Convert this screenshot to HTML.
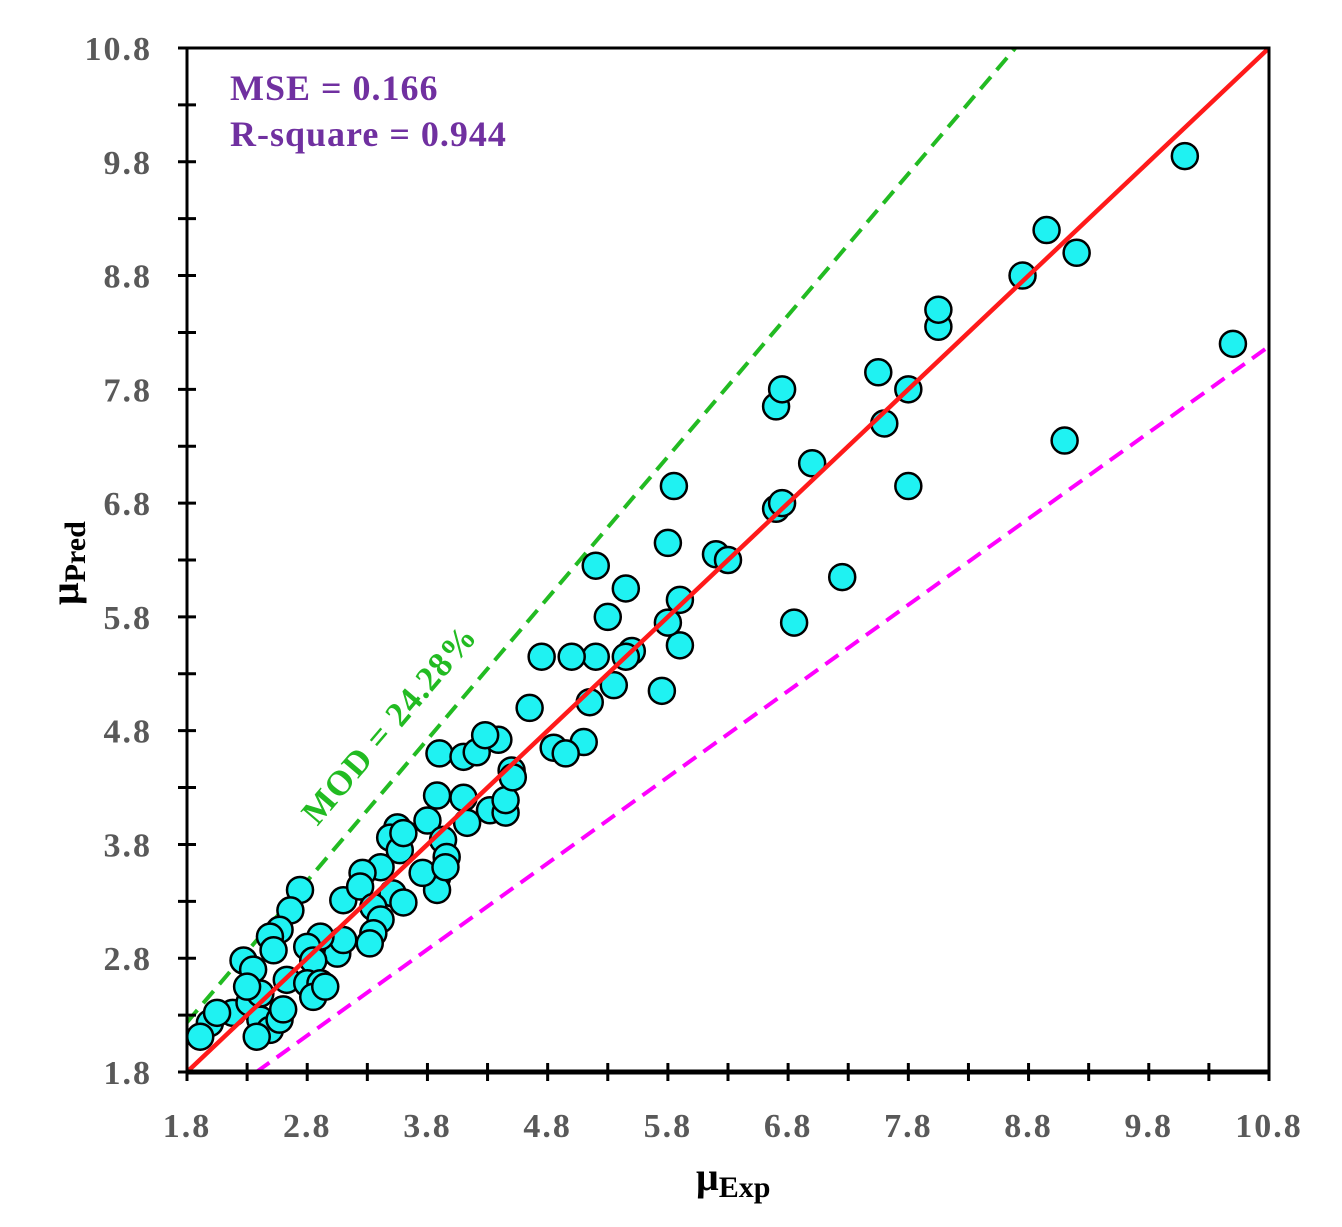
<!DOCTYPE html>
<html><head><meta charset="utf-8"><style>
html,body{margin:0;padding:0;background:#fff;}
svg{display:block;}
text{font-family:"Liberation Serif",serif;font-weight:bold;}
</style></head><body>
<svg id="chart" width="1342" height="1227" viewBox="0 0 1342 1227" xmlns="http://www.w3.org/2000/svg">
<g id="lines"></g>
<g id="pts"></g>
<g id="axes"></g>
<text x="230" y="100" fill="#7030a0" font-size="36" letter-spacing="1">MSE = 0.166</text>
<text x="230" y="146" fill="#7030a0" font-size="36" letter-spacing="1">R-square = 0.944</text>
<text x="0" y="0" fill="#22bb22" font-size="35" letter-spacing="1" transform="translate(398,732) rotate(-49.6)" text-anchor="middle">MOD = 24.28%</text>
<text x="696" y="1190" font-size="40" fill="#000">μ<tspan font-size="30" dy="7">Exp</tspan></text>
<text x="0" y="0" font-size="40" fill="#000" transform="translate(78,605) rotate(-90)">μ<tspan font-size="30" dy="7">Pred</tspan></text>
</svg>
<script>
const xs = [10.1,10.5,8.95,9.2,8.75,9.1,8.05,8.05,7.55,7.8,7.6,7.8,7.25,6.7,6.75,7.0,6.7,6.75,6.85,6.2,6.3,5.85,5.8,5.9,5.9,5.8,5.75,5.5,5.45,5.2,5.3,5.2,5.35,5.45,5.0,4.75,4.65,5.15,5.1,4.85,4.95,4.5,
3.90,4.10,4.21,4.39,4.28,3.88,4.10,4.32,4.45,4.45,4.51,4.13,3.55,3.49,3.57,3.80,3.93,3.96,3.88,3.88,3.76,3.41,3.26,3.10,3.24,3.51,3.60,3.35,3.41,3.35,3.32,3.05,3.10,2.91,2.80,2.85,2.63,2.80,2.91,2.85,2.74,2.66,2.57,2.49,2.52,2.27,2.35,2.18,1.99,1.91,2.32,2.41,2.49,2.38,2.57,2.60,2.41,2.30,2.05,3.6,3.95,2.95];
const ys = [9.85,8.2,9.2,9.0,8.8,7.35,8.35,8.5,7.95,7.8,7.5,6.95,6.15,7.65,7.8,7.15,6.75,6.8,5.75,6.35,6.3,6.95,6.45,5.95,5.55,5.75,5.15,5.5,6.05,6.25,5.8,5.45,5.2,5.45,5.45,5.45,5.0,5.05,4.7,4.65,4.6,4.45,
4.60,4.57,4.61,4.72,4.76,4.23,4.21,4.10,4.08,4.19,4.39,3.99,3.95,3.86,3.75,4.01,3.84,3.69,3.51,3.40,3.55,3.60,3.55,3.31,3.43,3.37,3.29,3.25,3.14,3.02,2.93,2.84,2.96,2.99,2.90,2.78,2.61,2.58,2.58,2.46,3.40,3.22,3.05,2.99,2.87,2.78,2.70,2.32,2.23,2.11,2.41,2.26,2.17,2.11,2.26,2.35,2.49,2.55,2.32,3.9,3.6,2.55];
const ticks = ["1.8","2.8","3.8","4.8","5.8","6.8","7.8","8.8","9.8","10.8"];
const modUp = 1.2428, modDn = 0.7572;
const X0=187,X1=1269,Y0=1072,Y1=48,MIN=1.8,MAX=10.8;
const sx=v=>X0+(v-MIN)/(MAX-MIN)*(X1-X0);
const sy=v=>Y0-(v-MIN)/(MAX-MIN)*(Y0-Y1);
const NS="http://www.w3.org/2000/svg";
function mk(t,a,p){const e=document.createElementNS(NS,t);for(const k in a)e.setAttribute(k,a[k]);p.appendChild(e);return e;}
const L=document.getElementById('lines'),P=document.getElementById('pts'),A=document.getElementById('axes');
let gx2=MAX/modUp;
let g=mk('line',{x1:sx(MIN),y1:sy(MIN*modUp),x2:sx(gx2),y2:sy(MAX),stroke:'#22bb22','stroke-width':4,'stroke-dasharray':'16,9'},L);


let m=mk('line',{x1:sx(MIN/modDn),y1:sy(MIN),x2:sx(MAX),y2:sy(MAX*modDn),stroke:'#ff00ff','stroke-width':4,'stroke-dasharray':'16,9'},L);


for(let i=0;i<xs.length;i++){
  const c=mk('circle',{cx:sx(xs[i]),cy:sy(ys[i]),r:13,fill:'#1ff2f2',stroke:'#000','stroke-width':2.5},P);
  
  
}
let r=mk('line',{x1:sx(MIN),y1:sy(MIN),x2:sx(MAX),y2:sy(MAX),stroke:'#ff1a1a','stroke-width':4.5},P);


let fr=mk('rect',{x:X0,y:Y1,width:X1-X0,height:Y0-Y1,fill:'none',stroke:'#000','stroke-width':3},A);


let bx=mk('line',{x1:X0,y1:Y0,x2:X1,y2:Y0,stroke:'#000','stroke-width':5},A);


for(let v=MIN;v<=MAX+0.001;v+=0.5){
  const tx=mk('line',{x1:sx(v),y1:Y0-9,x2:sx(v),y2:Y0+9,stroke:'#000','stroke-width':3},A);
  
  
  const ty=mk('line',{x1:X0-9,y1:sy(v),x2:X0+9,y2:sy(v),stroke:'#000','stroke-width':3},A);
  
  
}
ticks.forEach(t=>{
  const v=parseFloat(t);
  const a=mk('text',{x:sx(v),y:1137,'text-anchor':'middle','font-size':34,'letter-spacing':2,fill:'#595959'},A);a.textContent=t;
  
  
  const b=mk('text',{x:152,y:sy(v)+12,'text-anchor':'end','font-size':34,'letter-spacing':2,fill:'#595959'},A);b.textContent=t;
  
  
});
</script>
</body></html>
